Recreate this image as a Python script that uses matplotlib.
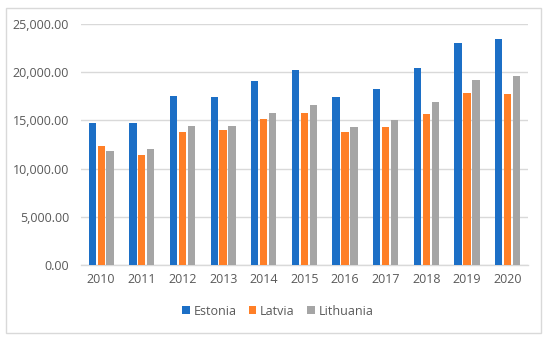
import matplotlib.pyplot as plt
import numpy as np
from matplotlib.patches import Rectangle

years = ["2010", "2011", "2012", "2013", "2014", "2015", "2016", "2017", "2018", "2019", "2020"]
estonia = [14730, 14700, 17500, 17430, 19090, 20230, 17430, 18290, 20400, 23060, 23410]
latvia = [12310, 11410, 13800, 13970, 15150, 15730, 13800, 14320, 15660, 17840, 17770]
lithuania = [11830, 12030, 14380, 14380, 15730, 16560, 14280, 15040, 16870, 19190, 19570]

series = [("Estonia", estonia, "#1C6FC6"),
          ("Latvia", latvia, "#FF7F27"),
          ("Lithuania", lithuania, "#A5A5A5")]

plt.rcParams["font.family"] = ["Open Sans", "DejaVu Sans"]
text_color = "#595959"
grid_color = "#D9D9D9"

fig = plt.figure(figsize=(5.5, 3.4), dpi=100)
ax = fig.add_axes([0.147, 0.2206, 0.813, 0.7084])

x = np.arange(len(years))
width = 0.18
step = 0.22
for i, (name, vals, color) in enumerate(series):
    ax.bar(x + (i - 1) * step, vals, width=width, color=color, label=name, zorder=3)

ax.set_xlim(-0.5, len(years) - 0.5)
ax.set_ylim(0, 25000)
ax.set_yticks(np.arange(0, 25001, 5000))
ax.set_yticklabels([f"{v:,.2f}" for v in np.arange(0, 25001, 5000)])
ax.set_xticks(x)
ax.set_xticklabels(years)
ax.tick_params(length=0, labelsize=9, colors=text_color)
ax.tick_params(axis="x", pad=5.5)
ax.tick_params(axis="y", pad=8.5)
ax.grid(axis="y", color=grid_color, linewidth=1, zorder=0)
for s in ["top", "right", "left"]:
    ax.spines[s].set_visible(False)
ax.spines["bottom"].set_color(grid_color)
ax.spines["bottom"].set_linewidth(1)

leg = fig.legend(loc="center", bbox_to_anchor=(0.505, 0.085), ncol=3, frameon=False,
                 fontsize=9, handlelength=0.6, handleheight=0.6, handletextpad=0.3,
                 columnspacing=1.0, labelcolor=text_color)

fig.patches.append(Rectangle((6 / 550, 1 - 333 / 340), 535 / 550, 325 / 340,
                             transform=fig.transFigure, fill=False,
                             edgecolor=grid_color, linewidth=1))

fig.savefig("out.png", dpi=100)
